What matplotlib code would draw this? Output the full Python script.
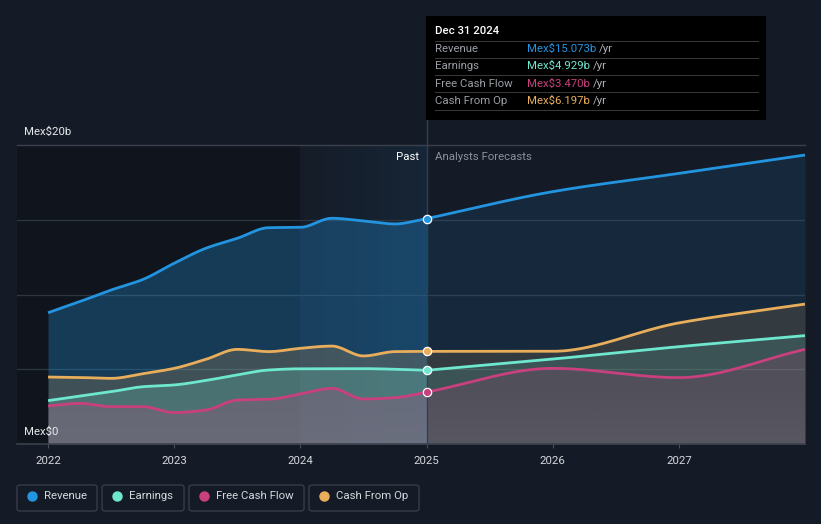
import numpy as np
import matplotlib
matplotlib.use("Agg")
import matplotlib.pyplot as plt
from matplotlib.patches import FancyBboxPatch, Rectangle
import matplotlib.colors as mcolors

plt.rcParams['font.family'] = ['Roboto', 'DejaVu Sans']

# ---------------- data ----------------
past_t = [2022.0, 2022.25, 2022.5, 2022.75, 2023.0, 2023.25, 2023.5, 2023.75,
          2024.0, 2024.25, 2024.5, 2024.75, 2025.0]
revenue_past = [8.78, 9.52, 10.3, 11.0, 12.09, 13.09, 13.76, 14.47, 14.49, 15.1, 14.92, 14.72, 15.073]
earnings_past = [2.9, 3.2, 3.5, 3.83, 3.95, 4.25, 4.62, 4.95, 5.03, 5.03, 5.04, 5.0, 4.929]
fcf_past = [2.54, 2.72, 2.5, 2.5, 2.1, 2.27, 2.94, 2.99, 3.34, 3.72, 3.01, 3.1, 3.47]
cfo_past = [4.48, 4.45, 4.39, 4.7, 5.06, 5.66, 6.33, 6.18, 6.4, 6.55, 5.89, 6.18, 6.197]

fc_t = [2025.0, 2026.0, 2027.0, 2028.0]
revenue_fc = [15.073, 16.88, 18.1, 19.33]
earnings_fc = [4.929, 5.68, 6.51, 7.25]
fcf_fc = [3.47, 5.06, 4.44, 6.33]
cfo_fc = [6.197, 6.2, 8.1, 9.36]

year_ticks = [2022, 2023, 2024, 2025, 2026, 2027]
names = ["Revenue", "Earnings", "Free Cash Flow", "Cash From Op"]
tooltip_vals = ["Mex$15.073b", "Mex$4.929b", "Mex$3.470b", "Mex$6.197b"]
colors = ["#2394df", "#6ee7cf", "#c8407e", "#e9ae5b"]

BG = "#151b26"
FS = 8.2


def monotone(x, y, n=40):
    x = np.asarray(x, float); y = np.asarray(y, float)
    h = np.diff(x); d = np.diff(y) / h
    m = np.zeros_like(y)
    m[0] = d[0]; m[-1] = d[-1]
    for i in range(1, len(y) - 1):
        if d[i - 1] * d[i] <= 0:
            m[i] = 0
        else:
            w1 = 2 * h[i] + h[i - 1]; w2 = h[i] + 2 * h[i - 1]
            m[i] = (w1 + w2) / (w1 / d[i - 1] + w2 / d[i])
    xs, ys = [], []
    for i in range(len(h)):
        t = np.linspace(0, 1, n, endpoint=(i == len(h) - 1))
        h00 = 2 * t**3 - 3 * t**2 + 1; h10 = t**3 - 2 * t**2 + t
        h01 = -2 * t**3 + 3 * t**2; h11 = t**3 - t**2
        xs.append(x[i] + t * h[i])
        ys.append(h00 * y[i] + h10 * h[i] * m[i] + h01 * y[i + 1] + h11 * h[i] * m[i + 1])
    return np.concatenate(xs), np.concatenate(ys)


fig = plt.figure(figsize=(8.21, 5.24), dpi=100, facecolor=BG)
ax = fig.add_axes([17 / 821, 80 / 524, 788 / 821, 299 / 524])
ax.set_facecolor(BG)
x0, x1 = 2021.754, 2028.0
ax.set_xlim(x0, x1)
ax.set_ylim(0, 20)
for s in ax.spines.values():
    s.set_visible(False)

# darker past region
ax.axvspan(x0, 2024.0, color="#0b0e14", alpha=0.45, lw=0, zorder=0)
# highlight band 2024-2025 (gradient)
grad = np.linspace(0, 1, 100).reshape(1, -1)
rgba = np.zeros((1, 100, 4))
rgba[..., :3] = mcolors.to_rgb("#1f5f90")
rgba[..., 3] = 0.03 + 0.14 * grad ** 1.3
ax.imshow(rgba, extent=[2024.0, 2025.0, 0, 20], aspect="auto", zorder=0.5, interpolation="bilinear")

# gridlines
for v in [5, 10, 15]:
    ax.axhline(v, color="#2e3642", lw=0.9, zorder=1)
ax.axhline(20, color="#3a414c", lw=1, zorder=1, clip_on=False)
ax.axhline(0, color="#3a414c", lw=1.2, zorder=6, clip_on=False)

past_series = [revenue_past, earnings_past, fcf_past, cfo_past]
fc_series = [revenue_fc, earnings_fc, fcf_fc, cfo_fc]
past_alpha = [0.3, 0.22, 0.22, 0.2]
fc_alpha = [0.12, 0.14, 0.16, 0.14]
order = [0, 3, 1, 2]
for i in order:
    xp, yp = monotone(past_t, past_series[i], 30)
    xf, yf = monotone(fc_t, fc_series[i], 60)
    ax.fill_between(xp, 0, yp, color=colors[i], alpha=past_alpha[i], lw=0, zorder=2)
    ax.fill_between(xf, 0, yf, color=colors[i], alpha=fc_alpha[i], lw=0, zorder=2)
    ax.plot(np.concatenate([xp, xf]), np.concatenate([yp, yf]), color=colors[i], lw=2.0,
            zorder=4, solid_capstyle="butt")

# grey bottom gradient
rg = np.zeros((100, 1, 4))
rg[..., :3] = mcolors.to_rgb("#8a8a96")
rg[..., 3] = 0.12 * np.linspace(0, 1, 100).reshape(-1, 1)
ax.imshow(rg, extent=[2022.0, x1, 0, 4], aspect="auto", zorder=2.5, interpolation="bilinear")

# divider line at 2025
ax.plot([2025.0, 2025.0], [0, 22.6], color="#2c4258", lw=1, zorder=3, clip_on=False)

# markers
for i in range(4):
    ax.scatter([2025.0], [past_series[i][-1]], s=36, color=colors[i], edgecolor="white",
               linewidth=0.9, zorder=7)

# ticks
ax.set_xticks(year_ticks)
ax.set_xticklabels([str(y) for y in year_ticks], color="#d5d8dd", fontsize=FS)
ax.tick_params(axis="x", length=3, color="#4a505a", pad=6)
ax.set_yticks([])

# texts
lx = x0 + (24 - 17) / 126.2
ax.text(lx, 20.9, "Mex$20b", color="#e6e8eb", fontsize=FS, va="center", ha="left")
ax.text(lx, 0.8, "Mex$0", color="#e6e8eb", fontsize=FS, va="center", ha="left", zorder=8)
ax.text(2024.94, 19.2, "Past", color="#ffffff", fontsize=FS, ha="right", va="center", zorder=8)
ax.text(2025.065, 19.2, "Analysts Forecasts", color="#8c929b", fontsize=FS, ha="left", va="center", zorder=8)

# tooltip
tb = Rectangle((426 / 821, 1 - 120 / 524), 340 / 821, 104 / 524, transform=fig.transFigure,
               facecolor="#000000", edgecolor="none", zorder=10)
fig.patches.append(tb)
fig.text(435 / 821, 1 - 31 / 524, "Dec 31 2024", color="#ffffff", fontsize=FS, fontweight="medium",
         va="center", zorder=11)
row_y = [49, 66, 84, 101]
fig.canvas.draw()
rend = fig.canvas.get_renderer()
for k in range(4):
    fig.text(435 / 821, 1 - row_y[k] / 524, names[k], color="#9a9ea6", fontsize=FS, va="center", zorder=11)
    t = fig.text(527 / 821, 1 - row_y[k] / 524, tooltip_vals[k], color=colors[k], fontsize=FS,
                 va="center", zorder=11)
    bb = t.get_window_extent(renderer=rend)
    fig.text(bb.x1 / 821 + 3 / 821, 1 - row_y[k] / 524, "/yr", color="#b0b4ba", fontsize=FS,
             va="center", zorder=11)
for ly in [41, 58, 75, 92, 110]:
    fig.add_artist(plt.Line2D([435 / 821, 758 / 821], [1 - ly / 524, 1 - ly / 524],
                              transform=fig.transFigure, color="#3a3a3a", lw=0.7, zorder=11))

# legend boxes
boxes = [(17, 97), (102, 184), (189, 304), (309, 419)]
for k, (a, b) in enumerate(boxes):
    p = FancyBboxPatch((a / 821, 1 - 511 / 524), (b - a) / 821, 26 / 524,
                       boxstyle="round,pad=0,rounding_size=0.004", transform=fig.transFigure,
                       facecolor="none", edgecolor="#3b414b", lw=0.9)
    fig.patches.append(p)
    fig.add_artist(plt.Line2D([(a + 15) / 821], [1 - 496 / 524], marker="o", markersize=6.5,
                              color=colors[k], transform=fig.transFigure, lw=0))
    fig.text((a + 27) / 821, 1 - 496 / 524, names[k], color="#d5d8dd", fontsize=FS, va="center")

fig.savefig("out.png", dpi=100, facecolor=BG)
